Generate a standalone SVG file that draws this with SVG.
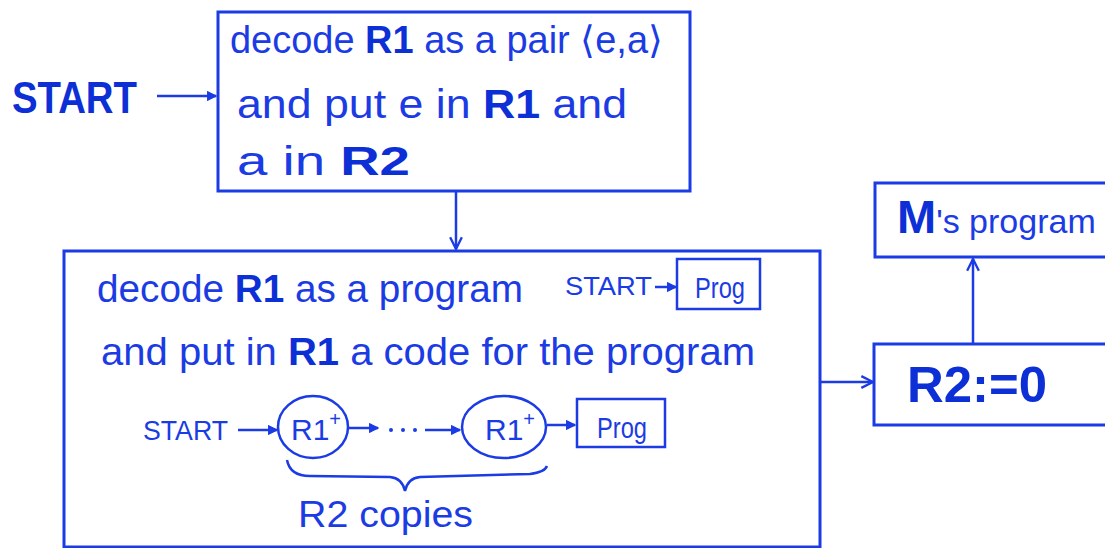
<svg xmlns="http://www.w3.org/2000/svg" width="1105" height="548" viewBox="0 0 1105 548">
<defs>
<marker id="ah" viewBox="0 0 12 12" refX="11" refY="6" markerWidth="14" markerHeight="14" markerUnits="userSpaceOnUse" orient="auto">
<path d="M1,1 L11,6 L1,11" fill="none" stroke="#1b3be4" stroke-width="2"/>
</marker>
<marker id="ahs" viewBox="0 0 12 12" refX="11" refY="6" markerWidth="10" markerHeight="10" markerUnits="userSpaceOnUse" orient="auto">
<path d="M1,1 L11,6 L1,11 Z" fill="#1b3be4" stroke="#1b3be4" stroke-width="1.5"/>
</marker>
<style>
.box{fill:#fff;stroke:#1b3be4;stroke-width:3}
.ln{fill:none;stroke:#1b3be4;stroke-width:2.5}
.t{font-family:"Liberation Sans",Arial,sans-serif;fill:#1b3be4}
.b{font-weight:bold;fill:#0d2fd6}
</style>
</defs>
<rect width="1105" height="548" fill="#fff"/>

<g id="start-label">
<text class="t b" x="12" y="113" font-size="44" textLength="125" lengthAdjust="spacingAndGlyphs">START</text>
</g>

<g id="decode-pair">
<rect class="box" x="218" y="12" width="472" height="179"/>
<text class="t" x="230" y="53" font-size="38" textLength="433" lengthAdjust="spacingAndGlyphs">decode <tspan class="b">R1</tspan> as a pair ⟨e,a⟩</text>
<text class="t" x="237" y="118" font-size="40" textLength="390" lengthAdjust="spacingAndGlyphs">and put e in <tspan class="b">R1</tspan> and</text>
<text class="t" x="237" y="175" font-size="40" textLength="173" lengthAdjust="spacingAndGlyphs">a in  <tspan class="b">R2</tspan></text>
</g>

<g id="decode-program">
<rect class="box" x="64" y="251" width="756" height="296"/>
<text class="t" x="97" y="302" font-size="38" textLength="426" lengthAdjust="spacingAndGlyphs">decode <tspan class="b">R1</tspan> as a program</text>
<text class="t" x="565" y="295" font-size="26" textLength="87" lengthAdjust="spacingAndGlyphs">START</text>
<path class="ln" d="M655,287 L676,287" stroke-width="2" marker-end="url(#ahs)"/>
<rect class="ln" x="677" y="259" width="83" height="50" stroke-width="2.5"/>
<text class="t" x="695" y="298" font-size="30" textLength="50" lengthAdjust="spacingAndGlyphs">Prog</text>
<text class="t" x="101" y="365" font-size="38" textLength="654" lengthAdjust="spacingAndGlyphs">and put in <tspan class="b">R1</tspan> a code for the program</text>

<text class="t" x="143" y="440" font-size="27" textLength="85" lengthAdjust="spacingAndGlyphs">START</text>
<path class="ln" d="M238,430 L277,430" stroke-width="2" marker-end="url(#ahs)"/>
<ellipse class="ln" cx="313" cy="427" rx="35" ry="31"/>
<text class="t" x="291" y="440" font-size="30">R1<tspan font-size="20" dy="-14">+</tspan></text>
<path class="ln" d="M348,428 L378,428" stroke-width="2" marker-end="url(#ahs)"/>
<circle cx="391" cy="430" r="2" fill="#1b3be4"/>
<circle cx="403" cy="430" r="2" fill="#1b3be4"/>
<circle cx="415" cy="430" r="2" fill="#1b3be4"/>
<path class="ln" d="M425,430 L460,430" stroke-width="2" marker-end="url(#ahs)"/>
<ellipse class="ln" cx="504" cy="427" rx="42" ry="31"/>
<text class="t" x="485" y="440" font-size="30">R1<tspan font-size="20" dy="-14">+</tspan></text>
<path class="ln" d="M547,425 L575,425" stroke-width="2" marker-end="url(#ahs)"/>
<rect class="ln" x="577" y="399" width="88" height="48"/>
<text class="t" x="597" y="438" font-size="30" textLength="50" lengthAdjust="spacingAndGlyphs">Prog</text>
<path class="ln" d="M287,460 Q290,476 310,476 L390,477 Q402,478 405,491 Q408,478 420,477 L530,474 Q545,472 547,466" stroke-width="3"/>
<text class="t" x="298" y="527" font-size="36" textLength="175" lengthAdjust="spacingAndGlyphs">R2 copies</text>
</g>

<g id="r2-zero">
<rect class="box" x="874" y="344" width="240" height="81"/>
<text class="t b" x="907" y="402" font-size="50" textLength="140" lengthAdjust="spacingAndGlyphs">R2:=0</text>
</g>

<g id="m-program">
<rect class="box" x="875" y="183" width="240" height="74"/>
<text class="t" x="897" y="233" font-size="34"><tspan class="b" font-size="47">M</tspan><tspan>'s program</tspan></text>
</g>

<g id="connectors">
<path class="ln" d="M157,96 L216,96" marker-end="url(#ahs)"/>
<path class="ln" d="M456,192 L456,249" marker-end="url(#ah)"/>
<path class="ln" d="M821,382 L873,382" marker-end="url(#ah)"/>
<path class="ln" d="M973,343 L973,259" marker-end="url(#ah)"/>
</g>
</svg>
